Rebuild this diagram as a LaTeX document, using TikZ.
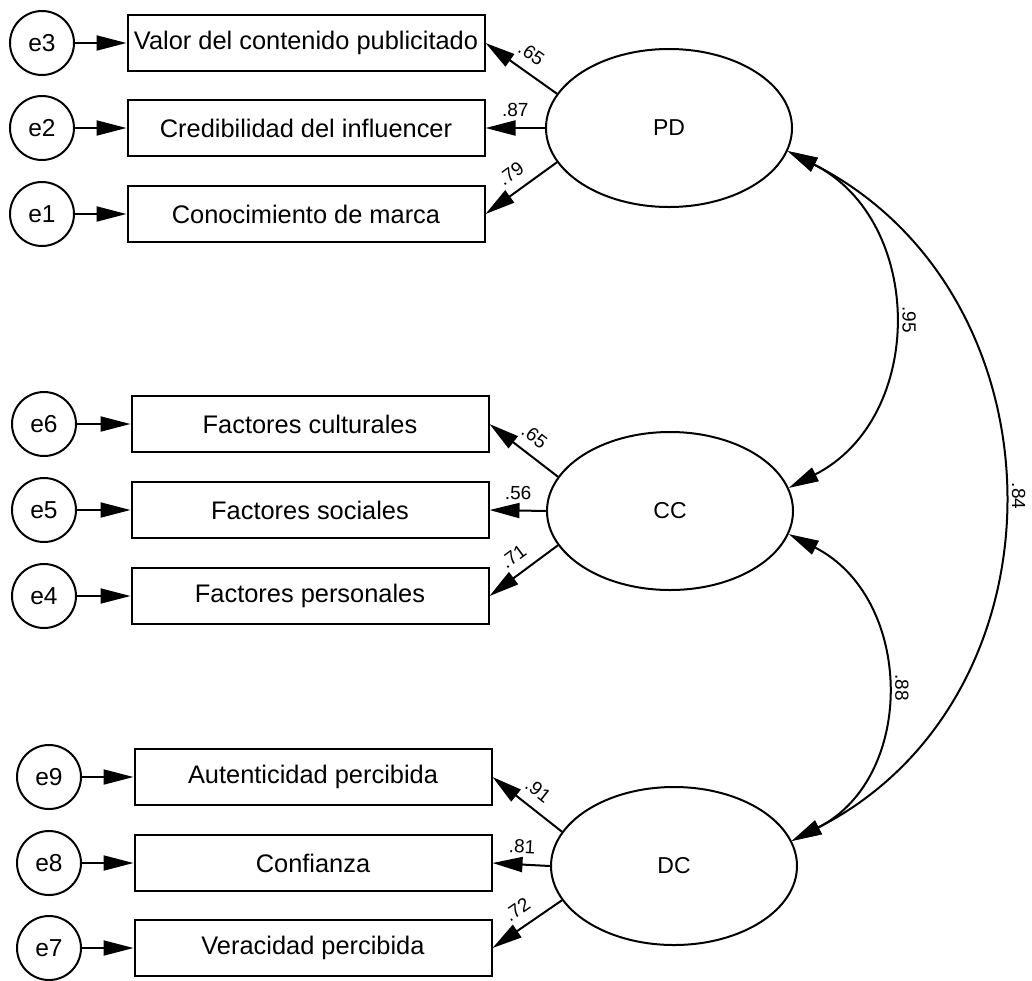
\documentclass[tikz,border=0pt]{standalone}
\usepackage{fontspec}
\setmainfont{Liberation Sans}
\usetikzlibrary{arrows.meta,shapes.geometric}

\begin{document}
\begin{tikzpicture}[x=1pt, y=1pt,
    obs/.style={draw, line width=2pt, minimum width=357pt, minimum height=56pt, inner sep=0pt, font=\fontsize{25.4}{28}\selectfont},
    err/.style={draw, circle, line width=2pt, minimum size=64pt, inner sep=0pt, font=\fontsize{24.5}{28}\selectfont},
    lat/.style={draw, ellipse, line width=2pt, minimum width=246pt, minimum height=158pt, inner sep=0pt, font=\fontsize{23}{28}\selectfont},
    path/.style={-{Triangle[length=30pt,width=15pt]}, line width=2pt},
    corr/.style={{Triangle[length=30pt,width=15pt]}-{Triangle[length=30pt,width=15pt]}, line width=2pt, out=-27, in=27, looseness=1.17},
    coef/.style={font=\fontsize{19}{20}\selectfont, midway, sloped, above=9pt, inner sep=1pt},
    rcoef/.style={font=\fontsize{19}{20}\selectfont, midway, rotate=-90, anchor=south, inner sep=10pt}
  ]
  \useasboundingbox (0,0) rectangle (1032,-980);

  % PD
  \node[err] (e3) at (42,-43) {e3};
  \node[err] (e2) at (42,-128) {e2};
  \node[err] (e1) at (42,-214) {e1};
  \node[obs] (valor) at (306,-43) {Valor del contenido publicitado};
  \node[obs] (cred) at (306,-128) {Credibilidad del influencer};
  \node[obs] (conoc) at (306,-214) {Conocimiento de marca};
  \node[lat] (PD) at (669,-128) {PD};

  % CC
  \node[err] (e6) at (44,-424) {e6};
  \node[err] (e5) at (44,-510) {e5};
  \node[err] (e4) at (44,-596) {e4};
  \node[obs] (cult) at (310,-424) {Factores culturales};
  \node[obs] (soc) at (310,-510) {Factores sociales};
  \node[obs] (pers) at (310,-596) {Factores personales};
  \node[lat] (CC) at (670,-511) {CC};

  % DC
  \node[err] (e9) at (49,-777) {e9};
  \node[err] (e8) at (49,-863) {e8};
  \node[err] (e7) at (49,-948) {e7};
  \node[obs] (aut) at (313,-777) {Autenticidad percibida};
  \node[obs] (conf) at (313,-863) {Confianza};
  \node[obs] (ver) at (313,-948) {Veracidad percibida};
  \node[lat] (DC) at (674,-866) {DC};

  \foreach \e/\o in {e3/valor,e2/cred,e1/conoc,e6/cult,e5/soc,e4/pers,e9/aut,e8/conf,e7/ver}
    \draw[path] (\e.east) -- (\o.west);

  \draw[path] (PD.163) -- node[coef] {.65} (valor.east);
  \draw[path] (PD.west) -- node[coef] {.87} (cred.east);
  \draw[path] (PD.197) -- node[coef] {.79} (conoc.east);
  \draw[path] (CC.163) -- node[coef] {.65} (cult.east);
  \draw[path] (CC.west) -- node[coef] {.56} (soc.east);
  \draw[path] (CC.197) -- node[coef] {.71} (pers.east);
  \draw[path] (DC.163) -- node[coef] {.91} (aut.east);
  \draw[path] (DC.west) -- node[coef] {.81} (conf.east);
  \draw[path] (DC.197) -- node[coef] {.72} (ver.east);

  \draw[corr] (PD.-11) to node[rcoef] {.95} (CC.11);
  \draw[corr] (CC.-11) to node[rcoef] {.88} (DC.12);
  \draw[corr] (PD.-11) to node[rcoef] {.84} (DC.12);
\end{tikzpicture}
\end{document}
